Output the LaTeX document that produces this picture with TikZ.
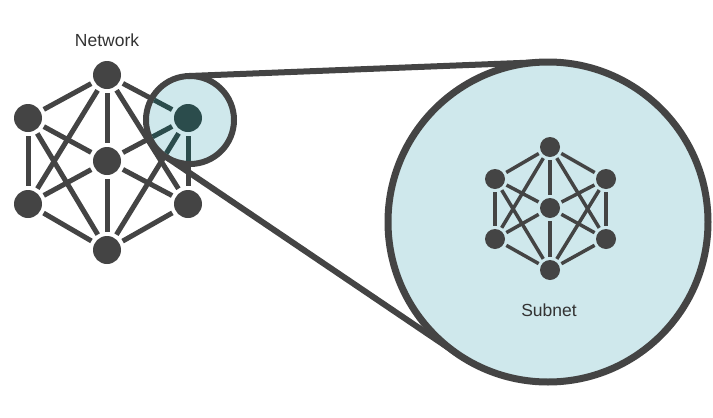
\documentclass[tikz,border=0pt]{standalone}
\usepackage{fontspec}
\setsansfont{Liberation Sans}
\usetikzlibrary{positioning,calc}

\definecolor{netgrey}{HTML}{444444}
\definecolor{lensblue}{HTML}{CFE8EC}
\definecolor{lensteal}{HTML}{2B4C4C}
\definecolor{labelgrey}{HTML}{333333}

\begin{document}
\begin{tikzpicture}[
  x=1pt, y=-1pt,
  font=\sffamily,
  dot/.style={circle, fill=netgrey, minimum size=28pt, inner sep=0pt, outer sep=4pt},
  subdot/.style={dot, minimum size=20pt, outer sep=3pt},
  edge/.style={draw=netgrey, line width=5pt},
  subedge/.style={edge, line width=3.5pt},
  lens/.style={circle, draw=netgrey, fill=lensblue, line width=6pt, inner sep=0pt, outer sep=0pt},
  title/.style={text=labelgrey, font=\fontsize{17.5}{20}\selectfont\sffamily}
]
\useasboundingbox (0,0) rectangle (713,418);

% network
\node[title] (net-title) at (107,40) {Network};
\node[dot] (n-top) at (107,75) {};
\node[dot] (n-ul) at (28,118) {};
\node[dot] (n-ur) at (188,118) {};
\node[dot] (n-mid) at (107,161) {};
\node[dot] (n-ll) at (28,204) {};
\node[dot] (n-lr) at (188,204) {};
\node[dot] (n-bot) at (107,250) {};
\foreach \a/\b in {top/ul, top/ur, top/mid, top/ll, top/lr, ul/mid, ul/ll, ul/bot,
                   ur/mid, ur/lr, ur/bot, mid/ll, mid/lr, mid/bot, ll/bot, lr/bot}
  \draw[edge] (n-\a) -- (n-\b);

% magnifier over the network
\node[lens, minimum size=88pt] (lens) at (190,120) {};
\begin{scope}
  \clip (lens.center) circle (41);
  \foreach \a/\b in {top/ul, top/ur, top/mid, top/ll, top/lr, ul/mid, ul/ll, ul/bot,
                     ur/mid, ur/lr, ur/bot, mid/ll, mid/lr, mid/bot, ll/bot, lr/bot}
    \draw[edge, draw=lensteal] (n-\a) -- (n-\b);
  \fill[lensteal] (n-ur.center) circle (14);
\end{scope}

% zoomed view
\coordinate (zoom-top) at ($(548,222)+(-92.26:160)$);
\coordinate (zoom-low) at ($(548,222)+(124.06:160)$);
\draw[netgrey, line width=6pt] (lens.92.26) -- (zoom-top);
\draw[netgrey, line width=6pt] (lens.-124.06) -- (zoom-low);
\node[lens, line width=7pt, minimum size=320pt] (zoom) at (548,222) {};

% subnet
\node[subdot] (s-top) at (550,147) {};
\node[subdot] (s-ul) at (495,179) {};
\node[subdot] (s-ur) at (606,179) {};
\node[subdot] (s-mid) at (550,208) {};
\node[subdot] (s-ll) at (495,239) {};
\node[subdot] (s-lr) at (606,239) {};
\node[subdot] (s-bot) at (550,270) {};
\foreach \a/\b in {top/ul, top/ur, top/mid, top/ll, top/lr, ul/mid, ul/ll, ul/bot,
                   ur/mid, ur/lr, ur/bot, mid/ll, mid/lr, mid/bot, ll/bot, lr/bot}
  \draw[subedge] (s-\a) -- (s-\b);
\node[title] (sub-title) at (549,310) {Subnet};
\end{tikzpicture}
\end{document}
